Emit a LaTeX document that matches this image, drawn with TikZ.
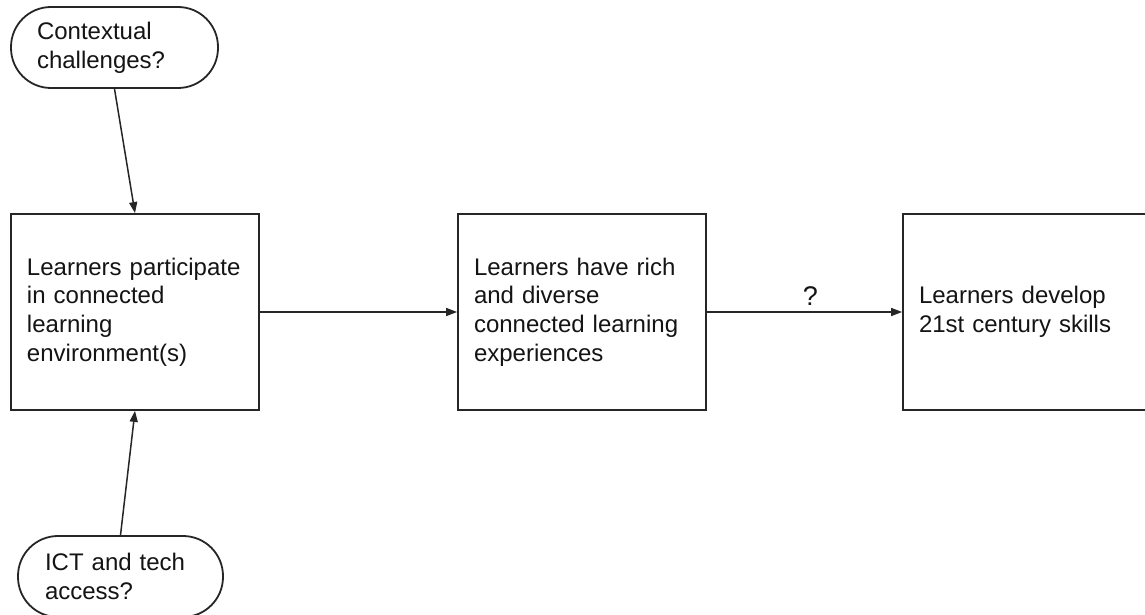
\documentclass[tikz,border=0pt]{standalone}
\usepackage{fontspec}
\setmainfont{Liberation Sans}
\usetikzlibrary{arrows.meta}
\begin{document}
\begin{tikzpicture}[x=1pt,y=-1pt,
  every node/.style={font=\fontsize{24}{28.8}\selectfont, text=black!92},
  stagebox/.style={draw=black!85, line width=1.8pt, rectangle,
    minimum height=196pt, text width=216pt, inner xsep=16pt, inner ysep=0pt, align=left},
  factor/.style={draw=black!85, line width=1.8pt, rectangle, rounded corners=40pt,
    minimum height=81pt, inner ysep=0pt, align=left},
  link/.style={draw=black!85, line width=1.5pt, -{Triangle[length=11pt,width=8pt]}}]
\clip (0,0) rectangle (1145,615);
\fill[white] (0,0) rectangle (1145,615);

% three stages of the chain
\node[stagebox] (b1) at (135,312) {Learners participate\\in connected\\learning\\environment(s)};
\node[stagebox] (b2) at (582,312) {Learners have rich\\and diverse\\connected learning\\experiences};
\node[stagebox] (b3) at (1027,312) {Learners develop\\21st century skills};

% influencing factors
\node[factor, text width=155pt, inner xsep=26pt] (ctx) at (114.5,47.5) {Contextual\\challenges?};
\node[factor, text width=151pt, inner xsep=27pt] (ict) at (120.5,576.5) {ICT and tech\\access?};

% connectors
\draw[link] (ctx.south) -- (b1.north);
\draw[link] (ict.north) -- (b1.south);
\draw[link] (b1.east) -- (b2.west);
\draw[link] (b2.east) -- node[pos=0.53, above, inner sep=0pt, yshift=6pt,
  font=\fontsize{27}{30}\selectfont] (q) {?} (b3.west);
\end{tikzpicture}
\end{document}
